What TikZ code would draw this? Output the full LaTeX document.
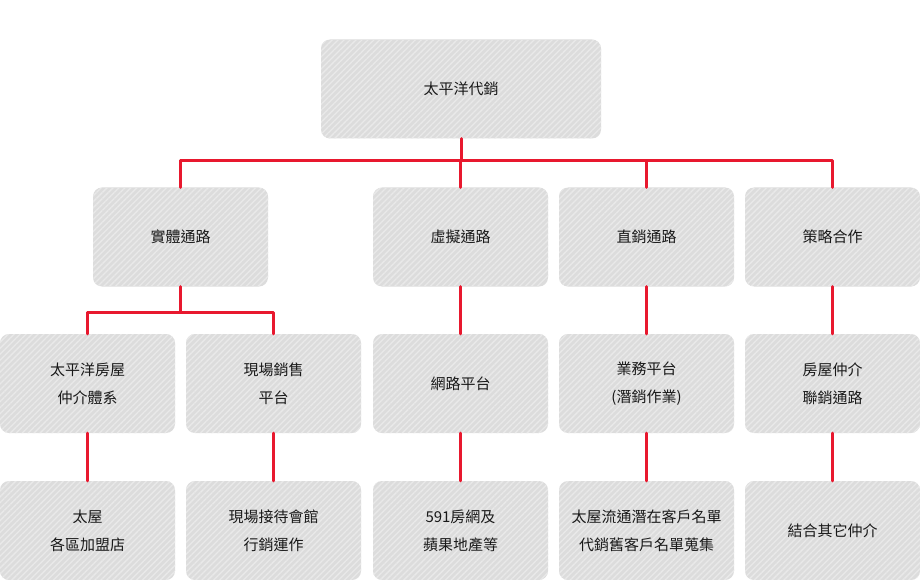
\documentclass[tikz,border=0pt]{standalone}
\usepackage{fontspec}
\setmainfont{Noto Sans CJK TC}
\usetikzlibrary{patterns.meta}
\definecolor{boxgray}{HTML}{DCDCDC}
\definecolor{stripe}{HTML}{E9E9E9}
\definecolor{linkred}{HTML}{E8182E}

\begin{document}
\begin{tikzpicture}[x=1pt,y=-1pt,
		box/.style={rounded corners=9pt, minimum width=175pt, minimum height=99pt, inner sep=0pt,
			fill=boxgray, postaction={pattern={Lines[angle=45,distance=4.2pt,line width=1.3pt]}, pattern color=stripe},
			align=center, text=black!90, font=\fontsize{15}{28}\selectfont},
		link/.style={linkred, line width=3pt, line cap=round, line join=round}]
	\useasboundingbox (0,0) rectangle (920,580);
	\node[box, minimum width=280pt] (root) at (461,89) {太平洋代銷};
	\node[box] (real) at (180.5,237) {實體通路};
	\node[box] (virtual) at (460.5,237) {虛擬通路};
	\node[box] (direct) at (646.5,237) {直銷通路};
	\node[box] (partner) at (832.5,237) {策略合作};
	\node[box] (agency) at (87.5,383.5) {太平洋房屋\\仲介體系};
	\node[box] (onsite) at (273.5,383.5) {現場銷售\\平台};
	\node[box] (web) at (460.5,383.5) {網路平台};
	\node[box] (sales) at (646.5,383.5) {業務平台\\(潛銷作業)};
	\node[box] (broker) at (832.5,383.5) {房屋仲介\\聯銷通路};
	\node[box] (stores) at (87.5,530.5) {太屋\\各區加盟店};
	\node[box] (hall) at (273.5,530.5) {現場接待會館\\行銷運作};
	\node[box] (portal) at (460.5,530.5) {591房網及\\蘋果地產等};
	\node[box] (lists) at (646.5,530.5) {太屋流通潛在客戶名單\\代銷舊客戶名單蒐集};
	\node[box] (others) at (832.5,530.5) {結合其它仲介};
	\coordinate (bus) at (0,161);
	\coordinate (subbus) at (0,312);
	\draw[link] (root.south) -- (root.south |- bus);
	\draw[link] (real.north) -- (real.north |- bus) -- (partner.north |- bus) -- (partner.north);
	\draw[link] (virtual.north) -- (virtual.north |- bus);
	\draw[link] (direct.north) -- (direct.north |- bus);
	\draw[link] (real.south) -- (real.south |- subbus);
	\draw[link] (agency.north) -- (agency.north |- subbus) -- (onsite.north |- subbus) -- (onsite.north);
	\draw[link] (virtual) -- (web);
	\draw[link] (direct) -- (sales);
	\draw[link] (partner) -- (broker);
	\draw[link] (agency) -- (stores);
	\draw[link] (onsite) -- (hall);
	\draw[link] (web) -- (portal);
	\draw[link] (sales) -- (lists);
	\draw[link] (broker) -- (others);
\end{tikzpicture}
\end{document}
